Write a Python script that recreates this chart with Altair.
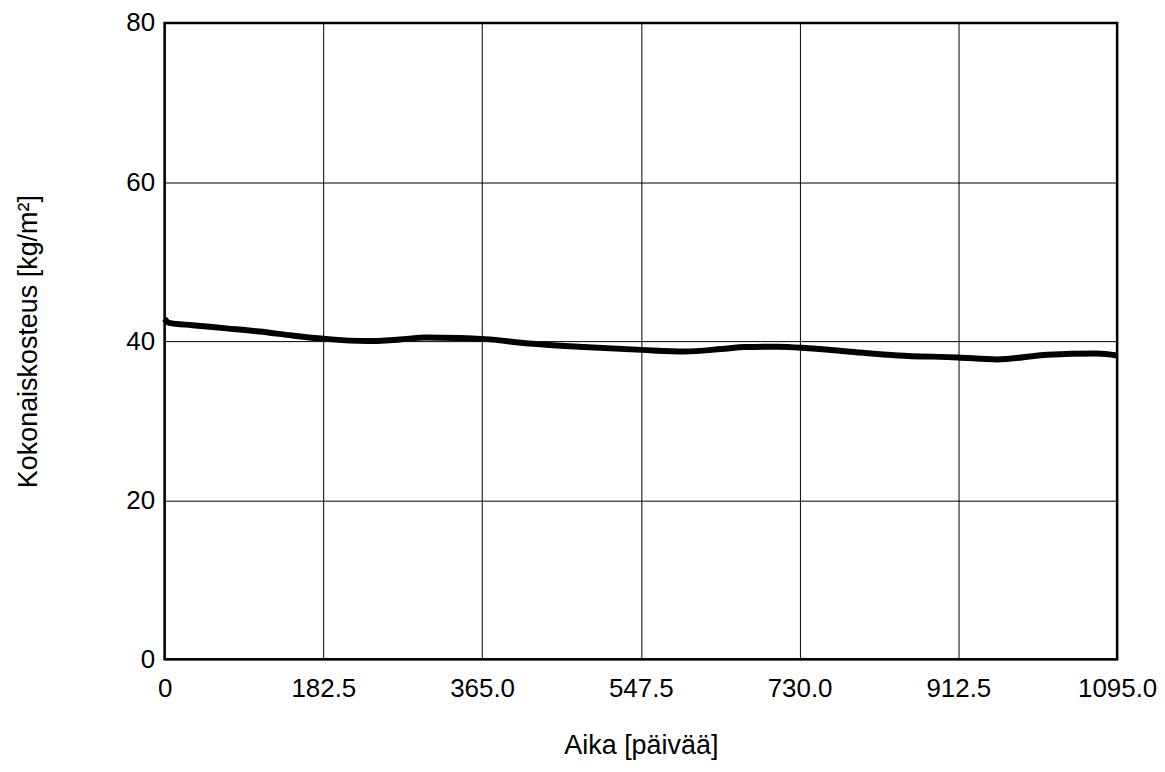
import altair as alt
import pandas as pd

days = [0, 5, 32, 71, 109, 147, 183, 232, 270, 300, 340, 369, 419, 476, 548, 598, 640, 667, 705, 740, 785, 843, 912, 957, 1015, 1072, 1095]
moisture = [42.8, 42.3, 42.0, 41.6, 41.2, 40.7, 40.3, 40.0, 40.2, 40.45, 40.4, 40.25, 39.7, 39.3, 38.9, 38.7, 39.0, 39.25, 39.3, 39.1, 38.7, 38.2, 37.95, 37.7, 38.3, 38.45, 38.2]

x_ticks = [0, 182.5, 365.0, 547.5, 730.0, 912.5, 1095.0]
y_ticks = [0, 20, 40, 60, 80]

df = pd.DataFrame({"Aika": days, "Kosteus": moisture})

FONT = "Liberation Sans"

chart = alt.Chart(df).mark_line(color="black", strokeWidth=6, interpolate="monotone").encode(
    x=alt.X("Aika:Q",
            scale=alt.Scale(domain=[0, 1095], nice=False, zero=False),
            axis=alt.Axis(values=x_ticks, title="Aika [päivää]",
                          labelExpr="datum.value == 0 ? '0' : format(datum.value, '.1f')",
                          labelPadding=16, titlePadding=31, ticks=False, tickSize=0,
                          domain=False, labelFlush=False)),
    y=alt.Y("Kosteus:Q",
            scale=alt.Scale(domain=[0, 80], nice=False),
            axis=alt.Axis(values=y_ticks, title="Kokonaiskosteus [kg/m²]",
                          labelPadding=10, titlePadding=84, ticks=False, tickSize=0,
                          domain=False)),
).properties(
    width=955, height=638,
    autosize=alt.AutoSizeParams(type="none"),
    padding={"left": 157, "top": 14, "right": 40, "bottom": 104},
).configure_view(
    stroke="black", strokeWidth=2.5
).configure_axis(
    grid=True, gridColor="black", gridWidth=1, gridOpacity=1,
    labelFont=FONT, labelFontSize=26, labelColor="black",
    titleFont=FONT, titleFontSize=27, titleFontWeight="normal", titleColor="black",
)

chart.save("out.html", embed_options={"renderer": "svg", "actions": False})
